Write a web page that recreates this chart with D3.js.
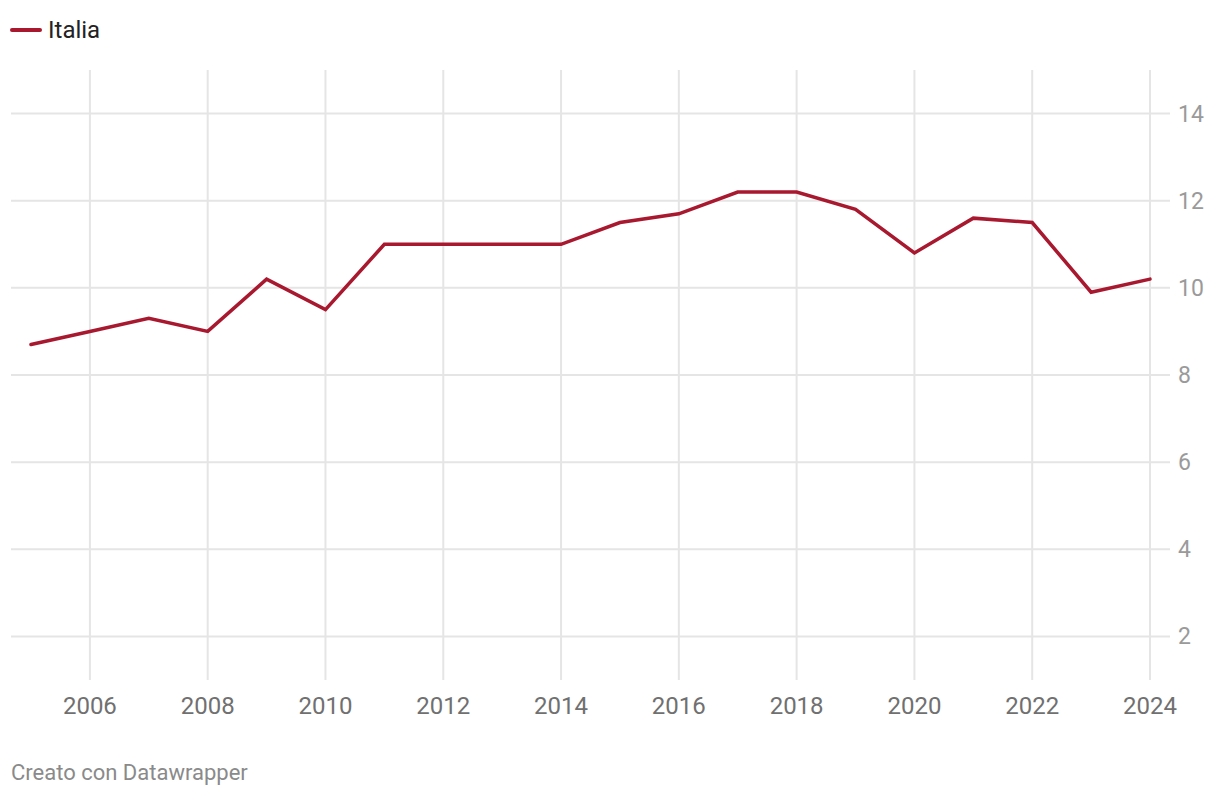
<!DOCTYPE html>
<html><head><meta charset="utf-8">
<script src="https://cdn.jsdelivr.net/npm/d3@7"></script>
<style>
body{margin:0;background:#fff;font-family:Roboto,sans-serif;}
svg{display:block;}
</style></head><body>
<svg id="c" width="1220" height="796"></svg>
<script>
const seriesName = "Italia";
const years = [2005,2006,2007,2008,2009,2010,2011,2012,2013,2014,2015,2016,2017,2018,2019,2020,2021,2022,2023,2024];
const values = [8.7,9.0,9.3,9.0,10.2,9.5,11.0,11.0,11.0,11.0,11.5,11.7,12.2,12.2,11.8,10.8,11.6,11.5,9.9,10.2];
const xTicks = [2006,2008,2010,2012,2014,2016,2018,2020,2022,2024];
const yTicks = [2,4,6,8,10,12,14];
const footer = "Creato con Datawrapper";

const svg = d3.select("#c");
const x = d3.scaleLinear().domain([2005,2024]).range([31,1150]);
const y = d3.scaleLinear().domain([1,15]).range([680,70]);

// horizontal grid
svg.append("g").selectAll("line").data(yTicks).join("line")
  .attr("x1",11).attr("x2",1170)
  .attr("y1",d=>y(d)).attr("y2",d=>y(d))
  .attr("stroke","#e5e5e5").attr("stroke-width",2);
// vertical grid
svg.append("g").selectAll("line").data(xTicks).join("line")
  .attr("x1",d=>x(d)).attr("x2",d=>x(d))
  .attr("y1",y(15)).attr("y2",y(1))
  .attr("stroke","#e5e5e5").attr("stroke-width",2);

// y labels
svg.append("g").selectAll("text").data(yTicks).join("text")
  .attr("x",1178).attr("y",d=>y(d)).attr("dy","0.35em")
  .attr("font-size",23).attr("fill","#9a9a9a").text(d=>d);
// x labels
svg.append("g").selectAll("text").data(xTicks).join("text")
  .attr("x",d=>x(d)).attr("y",714).attr("text-anchor","middle")
  .attr("font-size",24).attr("fill","#707070").text(d=>d);

// line
const line = d3.line().x((d,i)=>x(years[i])).y(d=>y(d));
svg.append("path").datum(values).attr("d",line)
  .attr("fill","none").attr("stroke","#a8182e").attr("stroke-width",3.5)
  .attr("stroke-linejoin","miter").attr("stroke-linecap","round");

// legend
svg.append("line").attr("x1",12).attr("x2",40).attr("y1",30).attr("y2",30)
  .attr("stroke","#a8182e").attr("stroke-width",4).attr("stroke-linecap","round");
svg.append("text").attr("x",48).attr("y",38).attr("font-size",24).attr("fill","#222").text(seriesName);

// footer
svg.append("text").attr("x",11).attr("y",780).attr("font-size",22).attr("fill","#8a8a8a").text(footer);
</script>
</body></html>
